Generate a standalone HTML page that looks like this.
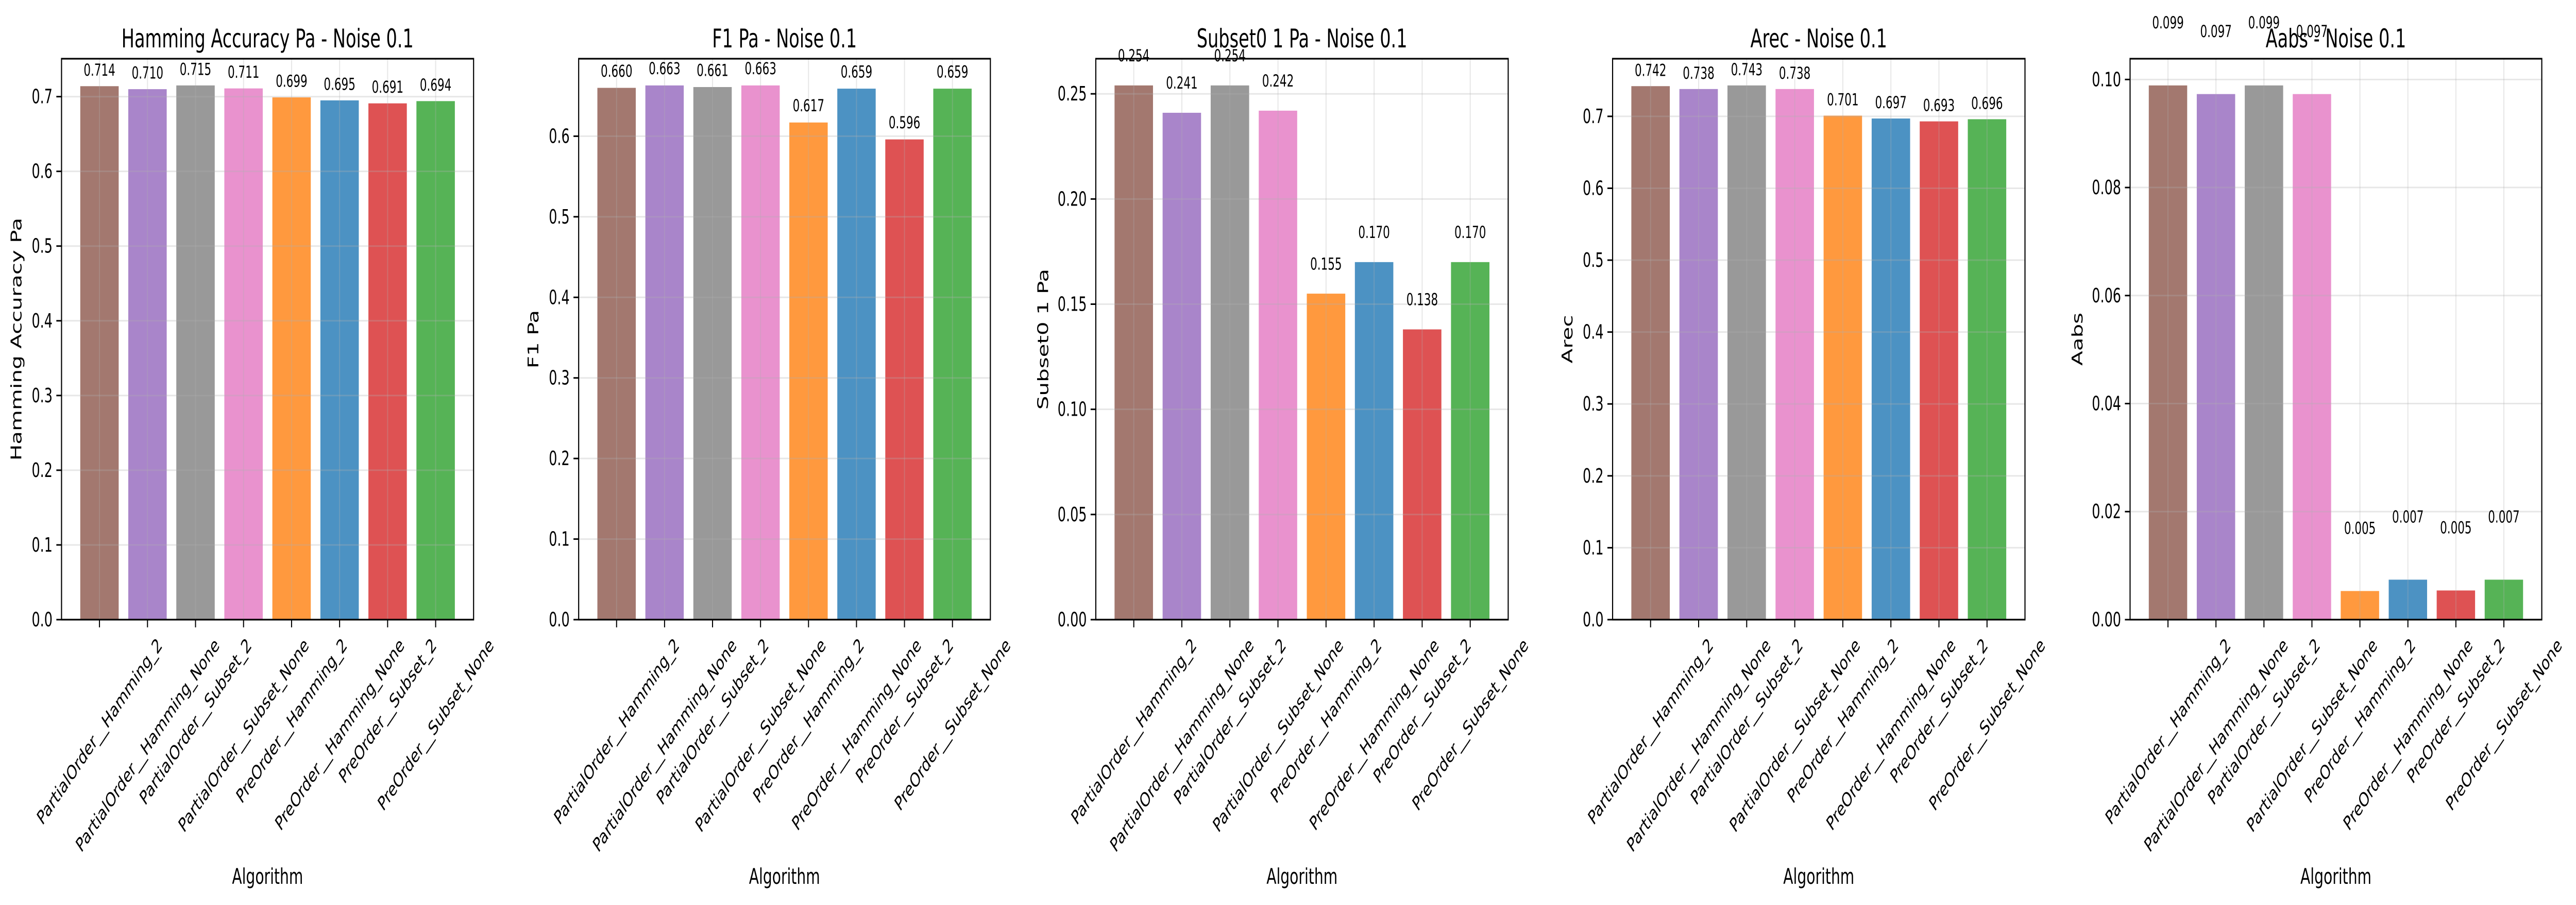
<!DOCTYPE html>
<html><head><meta charset="utf-8">
<style>
html,body{margin:0;padding:0;background:#fff;overflow:hidden;width:100%;height:100%;}
svg{display:block;position:fixed;left:0;top:0;width:100vw;height:100vh;font-family:"DejaVu Sans","Liberation Sans",sans-serif;}
</style></head>
<body>
<svg id="fig" viewBox="0 0 7452 1757" preserveAspectRatio="none" xmlns="http://www.w3.org/2000/svg">
<rect x="0" y="0" width="7452" height="1757" fill="#fff"/>
</svg>
<script>
const categories = ["PartialOrder__Hamming_2","PartialOrder__Hamming_None","PartialOrder__Subset_2","PartialOrder__Subset_None","PreOrder__Hamming_2","PreOrder__Hamming_None","PreOrder__Subset_2","PreOrder__Subset_None"];
const hammingValues = [0.714,0.710,0.715,0.711,0.699,0.695,0.691,0.694];
const f1Values = [0.660,0.663,0.661,0.663,0.617,0.659,0.596,0.659];
const subsetValues = [0.254,0.241,0.254,0.242,0.155,0.170,0.138,0.170];
const arecValues = [0.742,0.738,0.743,0.738,0.701,0.697,0.693,0.696];
const aabsValues = [0.0989,0.0973,0.0989,0.0973,0.0053,0.0074,0.0054,0.0074];
const hammingTicks = [0,0.1,0.2,0.3,0.4,0.5,0.6,0.7];
const f1Ticks = [0,0.1,0.2,0.3,0.4,0.5,0.6];
const subsetTicks = [0,0.05,0.10,0.15,0.20,0.25];
const arecTicks = [0,0.1,0.2,0.3,0.4,0.5,0.6,0.7];
const aabsTicks = [0,0.02,0.04,0.06,0.08,0.10];
const colors = ["#8c564b","#9467bd","#7f7f7f","#e377c2","#ff7f0e","#1f77b4","#d62728","#2ca02c"];

const panels = [
  {key:"hamming",title:"Hamming Accuracy Pa - Noise 0.1",ylabel:"Hamming Accuracy Pa",vals:hammingValues,ticks:hammingTicks,dec:1,left:178,right:1370},
  {key:"f1",title:"F1 Pa - Noise 0.1",ylabel:"F1 Pa",vals:f1Values,ticks:f1Ticks,dec:1,left:1674,right:2865},
  {key:"subset",title:"Subset0 1 Pa - Noise 0.1",ylabel:"Subset0 1 Pa",vals:subsetValues,ticks:subsetTicks,dec:2,left:3170,right:4363},
  {key:"arec",title:"Arec - Noise 0.1",ylabel:"Arec",vals:arecValues,ticks:arecTicks,dec:1,left:4665,right:5858},
  {key:"aabs",title:"Aabs - Noise 0.1",ylabel:"Aabs",vals:aabsValues,ticks:aabsTicks,dec:2,left:6162,right:7353}
];
const NS="http://www.w3.org/2000/svg";
const svg=document.getElementById('fig');
const TOP=114, BOT=1203;
function mk(tag,attrs,parent){const e=document.createElementNS(NS,tag);for(const k in attrs)e.setAttribute(k,attrs[k]);(parent||svg).appendChild(e);return e;}

panels.forEach(p=>{
  const g=mk('g',{});
  
  
  const n=categories.length;
  const ymax=Math.max(...p.vals)*1.05;
  const xmin=-0.4-0.39, xmax=(n-1)+0.4+0.39;
  const xs=v=>p.left+(v-xmin)/(xmax-xmin)*(p.right-p.left);
  const ys=v=>BOT-(v/ymax)*(BOT-TOP);
  const bw=(xs(0.8)-xs(0));
  p.vals.forEach((v,i)=>{
    const r=mk('rect',{x:xs(i)-bw/2,y:ys(v),width:bw,height:BOT-ys(v),fill:colors[i],'fill-opacity':0.8},g);
    
    
  });
  p.ticks.forEach(t=>{
    const l=mk('line',{x1:p.left,x2:p.right,y1:ys(t),y2:ys(t),stroke:'#b0b0b0','stroke-opacity':0.3,'stroke-width':3},g);
    
    
  });
  categories.forEach((c,i)=>{
    const l=mk('line',{x1:xs(i),x2:xs(i),y1:TOP,y2:BOT,stroke:'#b0b0b0','stroke-opacity':0.3,'stroke-width':3},g);
    
    
  });
  p.vals.forEach((v,i)=>{
    const t=mk('text',{x:xs(i),y:ys(v+0.01)-6,'text-anchor':'middle','font-size':32,fill:'#000'},g);
    t.textContent=v.toFixed(3);
    
    
  });
  const fr=mk('rect',{x:p.left,y:TOP,width:p.right-p.left,height:BOT-TOP,fill:'none',stroke:'#000','stroke-width':3.2},g);
  
  
  p.ticks.forEach(t=>{
    mk('line',{x1:p.left-15,x2:p.left,y1:ys(t),y2:ys(t),stroke:'#000','stroke-width':3},g);
    const tx=mk('text',{x:p.left-26,y:ys(t)+13,'text-anchor':'end','font-size':38,fill:'#000'},g);
    tx.textContent=t.toFixed(p.dec);
    
    
  });
  categories.forEach((c,i)=>{
    mk('line',{x1:xs(i),x2:xs(i),y1:BOT,y2:BOT+15,stroke:'#000','stroke-width':3},g);
    const tx=mk('text',{'text-anchor':'middle','font-size':38,fill:'#000'},g);
    tx.textContent=c;
    
    
    const L=tx.getComputedTextLength();
    const h=38;
    const half=(L+h)*0.7071/2;
    const cx=xs(i), cy=1232+half;
    tx.setAttribute('x',cx);tx.setAttribute('y',cy+h*0.35);
    tx.setAttribute('transform','rotate(-45 '+cx+' '+cy+')');
  });
  const tt=mk('text',{x:(p.left+p.right)/2,y:92,'text-anchor':'middle','font-size':50,fill:'#000'},g);
  tt.textContent=p.title;
  
  
  const xl=mk('text',{x:(p.left+p.right)/2,y:1716,'text-anchor':'middle','font-size':42,fill:'#000'},g);
  xl.textContent="Algorithm";
  
  
  const off=p.dec===2?151:130;
  const yx=p.left-off, yy=(TOP+BOT)/2;
  const yl=mk('text',{x:yx,y:yy,'text-anchor':'middle','dominant-baseline':'central','font-size':42,fill:'#000',transform:'rotate(-90 '+yx+' '+yy+')'},g);
  yl.textContent=p.ylabel;
  
  
});
</script>
</body></html>
